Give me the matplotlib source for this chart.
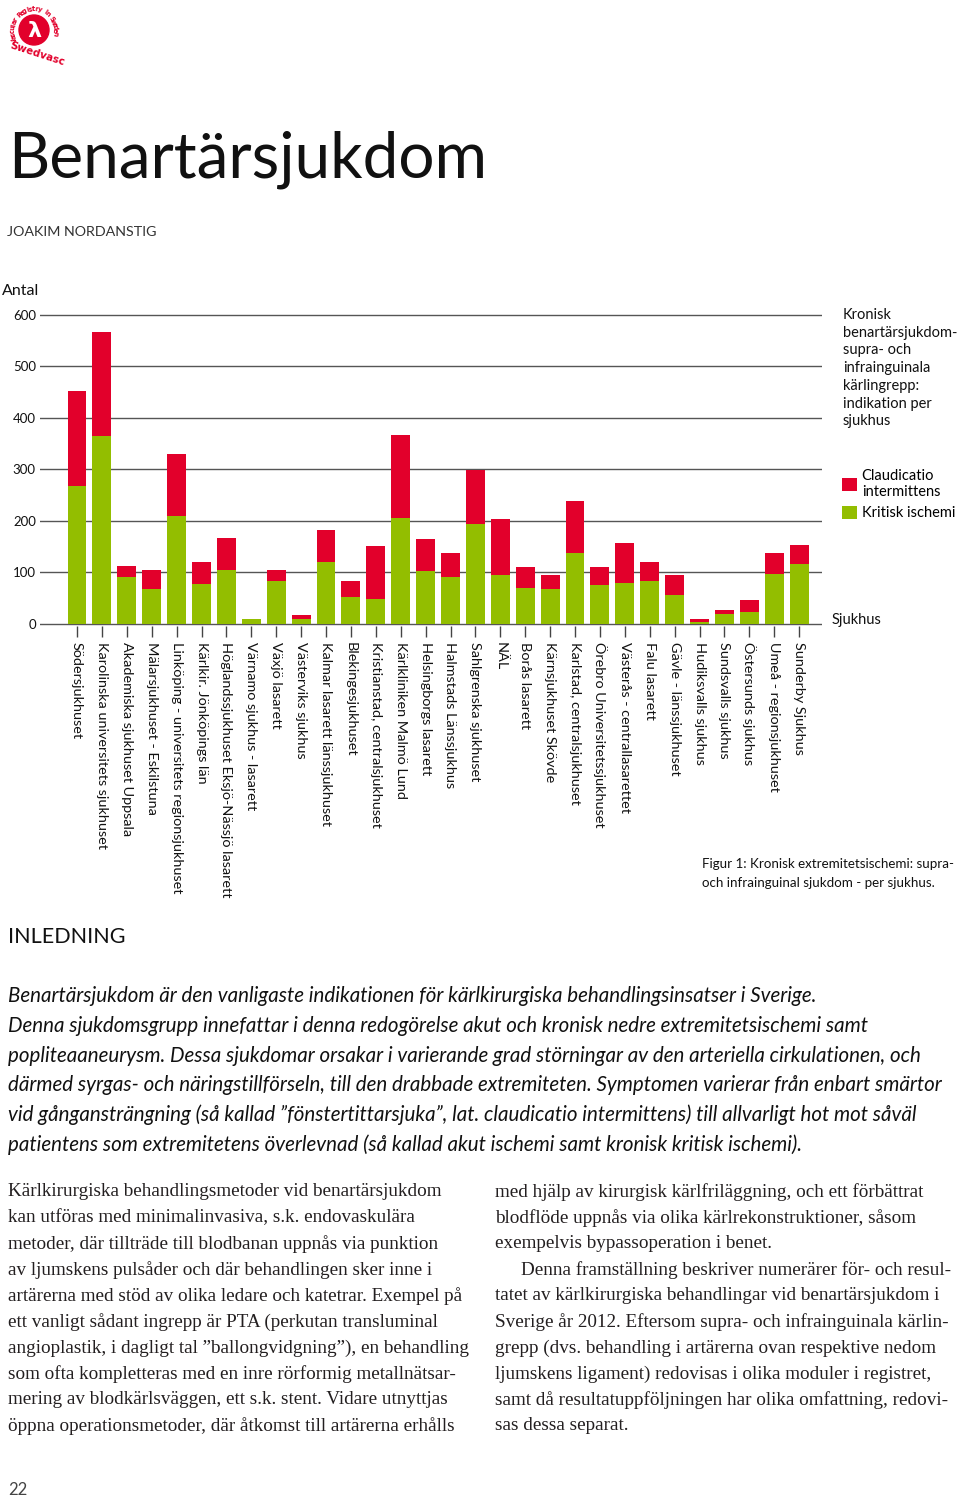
import numpy as np
import matplotlib
matplotlib.use("Agg")
import matplotlib.pyplot as plt
from matplotlib.patches import Circle

# data
hospitals = [
    "Södersjukhuset", "Karolinska universitets sjukhuset", "Akademiska sjukhuset Uppsala",
    "Mälarsjukhuset - Eskilstuna", "Linköping - universitets regionsjukhuset",
    "Kärlkir. Jönköpings län", "Höglandssjukhuset Eksjö-Nässjö lasarett",
    "Värnamo sjukhus - lasarett", "Växjö lasarett", "Västerviks sjukhus",
    "Kalmar lasarett länssjukhuset", "Blekingesjukhuset", "Kristianstad, centralsjukhuset",
    "Kärlkliniken Malmö Lund", "Helsingborgs lasarett", "Halmstads Länssjukhus",
    "Sahlgrenska sjukhuset", "NÄL", "Borås lasarett", "Kärnsjukhuset Skövde",
    "Karlstad, centralsjukhuset", "Örebro Universitetssjukhuset",
    "Västerås - centrallasarettet", "Falu lasarett", "Gävle - länssjukhuset",
    "Hudiksvalls sjukhus", "Sundsvalls sjukhus", "Östersunds sjukhus",
    "Umeå - regionsjukhuset", "Sunderby Sjukhus",
]
kritisk = [268, 365, 92, 68, 210, 78, 105, 10, 83, 10, 120, 52, 49, 206, 103,
           92, 194, 96, 70, 68, 138, 75, 80, 84, 57, 4, 19, 24, 97, 116]
claudicatio = [184, 202, 20, 37, 119, 42, 62, 0, 22, 7, 62, 32, 103, 160, 62,
               45, 105, 107, 40, 28, 100, 35, 78, 37, 38, 6, 9, 22, 40, 37]
yticks = [0, 100, 200, 300, 400, 500, 600]

RED = "#E2002B"
GREEN = "#93BE00"
TXT = "#231F20"

W, H = 960, 1499
fig = plt.figure(figsize=(W / 100, H / 100), dpi=100)

# page axes in pixel coordinates
pg = fig.add_axes([0, 0, 1, 1])
pg.set_xlim(0, W)
pg.set_ylim(H, 0)
pg.axis("off")

# ---- logo
pg.add_patch(Circle((34, 30), 15, color=RED))
pg.text(34, 31, "λ", color="white", fontsize=16, fontweight="bold",
        ha="center", va="center", family="DejaVu Sans")
arc = "Vascular Registry in Sweden"
angs = np.linspace(np.radians(208), np.radians(-10), len(arc))
for ch, a in zip(arc, angs):
    pg.text(34 + 21 * np.cos(a), 30 - 21 * np.sin(a), ch, color=RED, fontsize=4.8,
            fontweight="bold", ha="center", va="center",
            rotation=np.degrees(a) - 90)
pg.text(37, 54, "Swedvasc", color=RED, fontsize=7.4, fontweight="bold",
        ha="center", va="center", rotation=-18, family="DejaVu Sans")

# ---- headings
pg.text(8, 177, "Benartärsjukdom", fontsize=46, family="Lato", color="#111",
        va="baseline")
pg.text(7, 236, "JOAKIM NORDANSTIG", fontsize=10.3, family="Lato",
        color="#333", va="baseline")
pg.text(2, 291, "Antal", fontsize=11.5, family="Lato", color="#111", va="center")

# chart title at right
ctitle = ["Kronisk", "benartärsjukdom-", "supra- och", "infrainguinala",
          "kärlingrepp:", "indikation per", "sjukhus"]
for i, s in enumerate(ctitle):
    pg.text(843, 315 + i * 17.7, s, fontsize=10.5, family="Lato", color="#111",
            va="center")
pg.text(832, 620, "Sjukhus", fontsize=10.5, family="Lato", color="#111", va="center")

pg.text(702, 864, "Figur 1: Kronisk extremitetsischemi: supra-", fontsize=9.6,
        family="Lato", color="#111", va="center")
pg.text(702, 883, "och infrainguinal sjukdom - per sjukhus.", fontsize=9.6,
        family="Lato", color="#111", va="center")

# ---- chart
y0px, per100 = 624, 51.55
ylo, yhi = -3, 612
bot = y0px - ylo / 100 * per100
top = y0px - yhi / 100 * per100
x_first, step = 77, 24.9
xl, xr = 40, 822
ax = fig.add_axes([xl / W, 1 - bot / H, (xr - xl) / W, (bot - top) / H])
x = np.arange(len(hospitals))
ax.bar(x, kritisk, width=0.76, color=GREEN, zorder=3, label="Kritisk ischemi")
ax.bar(x, claudicatio, width=0.76, bottom=kritisk, color=RED, zorder=3,
       label="Claudicatio\nintermittens")
ax.set_xlim((xl - x_first) / step, (xr - x_first) / step)
ax.set_ylim(ylo, yhi)
for s in ax.spines.values():
    s.set_visible(False)
ax.set_yticks(yticks)
ax.set_yticklabels([str(v) for v in yticks], fontsize=9.5, family="Lato", color="#111")
ax.tick_params(axis="y", length=0, pad=3)
ax.yaxis.grid(True, color="#555555", lw=1.0, zorder=1)
ax.set_xticks(x)
ax.set_xticklabels(hospitals, rotation=-90, fontsize=10.4, family="Lato",
                   color="#111", va="top", ha="center")
ax.tick_params(axis="x", length=8, width=1.0, color="#444444", pad=4)

h, l = ax.get_legend_handles_labels()
leg = fig.legend(h[::-1], l[::-1], loc="upper left",
                 bbox_to_anchor=(842 / W, 1 - 469 / H), frameon=False,
                 prop={"family": "Lato", "size": 10.5}, handlelength=1.0,
                 handleheight=1.0, handletextpad=0.35, labelspacing=0.45,
                 borderpad=0, borderaxespad=0)

# ---- text body
pg.text(8, 937, "INLEDNING", fontsize=15.5, family="Lato",
        color="#111", va="center")

intro = [
    "Benartärsjukdom är den vanligaste indikationen för kärlkirurgiska behandlingsinsatser i Sverige.",
    "Denna sjukdomsgrupp innefattar i denna redogörelse akut och kronisk nedre extremitetsischemi samt",
    "popliteaaneurysm. Dessa sjukdomar orsakar i varierande grad störningar av den arteriella cirkulationen, och",
    "därmed syrgas- och näringstillförseln, till den drabbade extremiteten. Symptomen varierar från enbart smärtor",
    "vid gångansträngning (så kallad ”fönstertittarsjuka”, lat. claudicatio intermittens) till allvarligt hot mot såväl",
    "patientens som extremitetens överlevnad (så kallad akut ischemi samt kronisk kritisk ischemi).",
]
for i, s in enumerate(intro):
    pg.text(8, 996 + i * 29.8, s, fontsize=14.8, family="Lato", style="italic",
            color="#111", va="center")

col_left = [
    "Kärlkirurgiska behandlingsmetoder vid benartärsjukdom",
    "kan utföras med minimalinvasiva, s.k. endovaskulära",
    "metoder, där tillträde till blodbanan uppnås via punktion",
    "av ljumskens pulsåder och där behandlingen sker inne i",
    "artärerna med stöd av olika ledare och katetrar. Exempel på",
    "ett vanligt sådant ingrepp är PTA (perkutan transluminal",
    "angioplastik, i dagligt tal ”ballongvidgning”), en behandling",
    "som ofta kompletteras med en inre rörformig metallnätsar-",
    "mering av blodkärlsväggen, ett s.k. stent. Vidare utnyttjas",
    "öppna operationsmetoder, där åtkomst till artärerna erhålls",
]
col_right = [
    "med hjälp av kirurgisk kärlfriläggning, och ett förbättrat",
    "blodflöde uppnås via olika kärlrekonstruktioner, såsom",
    "exempelvis bypassoperation i benet.",
    "Denna framställning beskriver numerärer för- och resul-",
    "tatet av kärlkirurgiska behandlingar vid benartärsjukdom i",
    "Sverige år 2012. Eftersom supra- och infrainguinala kärlin-",
    "grepp (dvs. behandling i artärerna ovan respektive nedom",
    "ljumskens ligament) redovisas i olika moduler i registret,",
    "samt då resultatuppföljningen har olika omfattning, redovi-",
    "sas dessa separat.",
]
for i, s in enumerate(col_left):
    pg.text(8, 1192 + i * 26, s, fontsize=13.8, family="Liberation Serif",
            color=TXT, va="center")
for i, s in enumerate(col_right):
    xx = 521 if i == 3 else 495
    pg.text(xx, 1192 + i * 26, s, fontsize=13.8, family="Liberation Serif",
            color=TXT, va="center")

pg.text(8, 1490, "22", fontsize=12, family="Lato",
        color="#444", va="center")

fig.savefig("out.png", dpi=100)
